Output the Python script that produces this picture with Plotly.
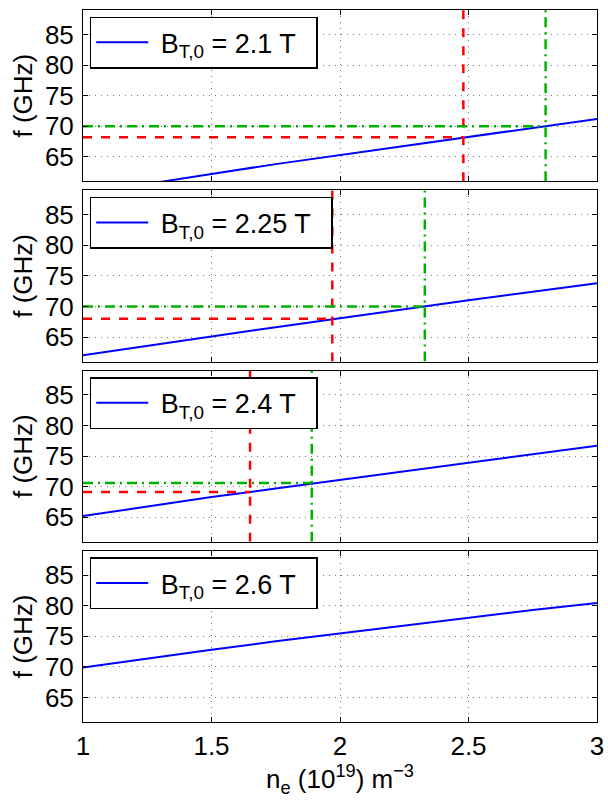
import plotly.graph_objects as go
from plotly.subplots import make_subplots

# ---- data ----
ne = [1.0, 1.25, 1.5, 1.75, 2.0, 2.25, 2.5, 2.75, 3.0]
f_21 = [58.9, 60.6, 62.2, 63.8, 65.3, 66.8, 68.3, 69.7, 71.2]
f_225 = [62.0, 63.6, 65.1, 66.6, 68.1, 69.6, 71.0, 72.4, 73.8]
f_24 = [65.2, 66.8, 68.3, 69.7, 71.1, 72.5, 73.9, 75.3, 76.7]
f_26 = [69.9, 71.4, 72.8, 74.2, 75.5, 76.8, 78.0, 79.3, 80.45]
b_labels = ["2.1", "2.25", "2.4", "2.6"]

# guide lines (density, frequency) per panel; None where absent
red_ne = [2.48, 1.97, 1.65, None]
red_f = [68.2, 68.0, 69.15, None]
green_ne = [2.80, 2.33, 1.89, None]
green_f = [70.0, 70.0, 70.6, None]

x_ticks = [1, 1.5, 2, 2.5, 3]
x_ticklabels = ["1", "1.5", "2", "2.5", "3"]
y_ticks = [65, 70, 75, 80, 85]
Y_MIN, Y_MAX = 61, 89
X_MIN, X_MAX = 1, 3

series = [f_21, f_225, f_24, f_26]

FONT = "Liberation Sans, Arial, Helvetica, sans-serif"
FS = 26
FS_LEG = 27
BLUE = "rgb(0,0,255)"
RED = "rgb(255,0,0)"
GREEN = "rgb(0,178,0)"
NB = "\u00a0"

W, H = 608, 801
ML, MR, MT, MB = 83, 11, 10, 79
plot_h = H - MT - MB
plot_w = W - ML - MR
gap_px = 9

fig = make_subplots(rows=4, cols=1, shared_xaxes=True,
                    vertical_spacing=gap_px / plot_h)

for i in range(4):
    row = i + 1
    lname = "legend" if i == 0 else f"legend{i + 1}"
    fig.add_trace(go.Scatter(
        x=ne, y=series[i], mode="lines",
        line=dict(color=BLUE, width=2),
        name=f"{NB}B<sub>T,0</sub> = {b_labels[i]} T{NB}{NB}",
        legend=lname, showlegend=True,
    ), row=row, col=1)
    if red_ne[i] is not None:
        fig.add_trace(go.Scatter(
            x=[X_MIN, red_ne[i]], y=[red_f[i], red_f[i]], mode="lines",
            line=dict(color=RED, width=2.5, dash="9px,9px"),
            showlegend=False, hoverinfo="skip"), row=row, col=1)
        fig.add_trace(go.Scatter(
            x=[red_ne[i], red_ne[i]], y=[Y_MIN, Y_MAX], mode="lines",
            line=dict(color=RED, width=2.5, dash="9px,9px"),
            showlegend=False, hoverinfo="skip"), row=row, col=1)
    if green_ne[i] is not None:
        fig.add_trace(go.Scatter(
            x=[X_MIN, green_ne[i]], y=[green_f[i], green_f[i]], mode="lines",
            line=dict(color=GREEN, width=2.5, dash="10px,5px,2px,5px"),
            showlegend=False, hoverinfo="skip"), row=row, col=1)
        fig.add_trace(go.Scatter(
            x=[green_ne[i], green_ne[i]], y=[Y_MIN, Y_MAX], mode="lines",
            line=dict(color=GREEN, width=2.5, dash="10px,5px,2px,5px"),
            showlegend=False, hoverinfo="skip"), row=row, col=1)

axis_common = dict(
    showline=True, linecolor="black", linewidth=1, mirror="ticks",
    ticks="inside", ticklen=5, tickwidth=1, tickcolor="black",
    showgrid=True, gridcolor="#777777", gridwidth=1, griddash="1px,5px",
    zeroline=False, automargin=False,
    tickfont=dict(family=FONT, size=FS, color="black"),
)

for i in range(4):
    row = i + 1
    fig.update_xaxes(
        range=[X_MIN, X_MAX], tickvals=x_ticks, ticktext=x_ticklabels,
        showticklabels=(row == 4), ticklabelstandoff=1,
        **axis_common, row=row, col=1)
    fig.update_yaxes(
        range=[Y_MIN, Y_MAX], tickvals=y_ticks, ticklabelstandoff=3,
        title=dict(text="f (GHz)", font=dict(family=FONT, size=FS, color="black"),
                   standoff=4),
        **axis_common, row=row, col=1)

fig.update_xaxes(
    title=dict(text="n<sub>e</sub> (10<sup>19</sup>) m<sup>\u22123</sup>",
               font=dict(family=FONT, size=FS, color="black"), standoff=6),
    row=4, col=1)

# legends, one per panel, at top-left
legends = {}
for i in range(4):
    yname = "yaxis" if i == 0 else f"yaxis{i + 1}"
    dom = fig.layout[yname].domain
    top = dom[1] - 6.7 / plot_h
    lname = "legend" if i == 0 else f"legend{i + 1}"
    legends[lname] = dict(
        x=6.7 / plot_w, y=top, xanchor="left", yanchor="top",
        bordercolor="black", borderwidth=1.5, bgcolor="white",
        font=dict(family=FONT, size=FS_LEG, color="black"),
        itemwidth=52,
    )
fig.update_layout(**legends)

fig.update_layout(
    width=W, height=H,
    margin=dict(l=ML, r=MR, t=MT, b=MB),
    plot_bgcolor="white", paper_bgcolor="white",
    font=dict(family=FONT, size=FS, color="black"),
)

fig.write_html("out.html",
               config={"displayModeBar": False},
               post_script="document.body.style.margin='0';document.body.style.padding='0';")
